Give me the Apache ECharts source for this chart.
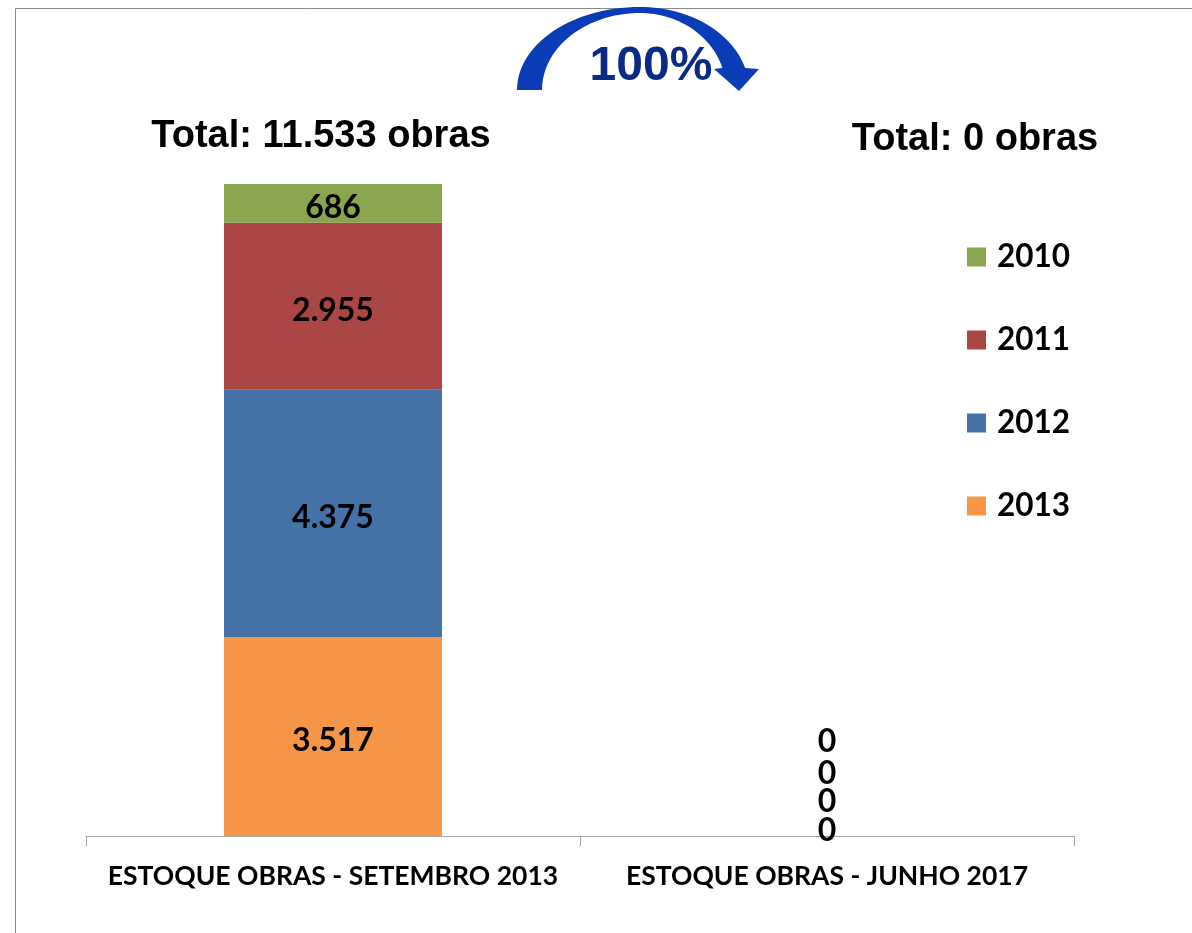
<!DOCTYPE html>
<html><head><meta charset="utf-8">
<script src="https://cdn.jsdelivr.net/npm/echarts@6/dist/echarts.min.js"></script>
<style>html,body{margin:0;padding:0;background:#fff;}#c{width:1192px;height:933px;}</style>
</head><body><div id="c"></div>
<script>
const categories = ['ESTOQUE OBRAS - SETEMBRO 2013', 'ESTOQUE OBRAS - JUNHO 2017'];
const legendOrder = ['2010', '2011', '2012', '2013'];
const v2013 = [3517, 0];
const v2012 = [4375, 0];
const v2011 = [2955, 0];
const v2010 = [686, 0];
const totals = ['Total: 11.533 obras', 'Total: 0 obras'];
const changeLabel = '100%';

const fmt = v => v.toLocaleString('de-DE');
const lblFont = 'Lato';
const chart = echarts.init(document.getElementById('c'));

function mk(name, vals, color, zeroOffset) {
  return {
    name, type: 'bar', stack: 's', barWidth: 218,
    data: vals.map(v => v === 0 ? {value: v, label: {offset: [0, zeroOffset]}} : v),
    itemStyle: {color},
    label: {show: true, position: 'inside', offset: [0, 4], formatter: p => fmt(p.value), color: '#000', fontFamily: lblFont, fontWeight: 'bold', fontSize: 32},
    emphasis: {disabled: true}
  };
}

// arrow polygon
function arrowPts() {
  const pts = [];
  const cx = 640, cy = 90;
  const N = 30;
  const aoEnd = Math.asin(22 / 83), aiEnd = Math.asin(22 / 77);
  for (let i = 0; i <= N; i++) { const a = Math.PI - i / N * Math.PI / 2; pts.push([cx + 123 * Math.cos(a), cy - 83 * Math.sin(a)]); }
  for (let i = 1; i <= N; i++) { const a = Math.PI / 2 - i / N * (Math.PI / 2 - aoEnd); pts.push([cx + 109 * Math.cos(a), cy - 83 * Math.sin(a)]); }
  pts.push([759, 69], [739, 91], [714, 69]);
  for (let i = 0; i <= N; i++) { const a = aiEnd + i / N * (Math.PI / 2 - aiEnd); pts.push([cx + 86 * Math.cos(a), cy - 77 * Math.sin(a)]); }
  for (let i = 1; i <= N; i++) { const a = Math.PI / 2 + i / N * Math.PI / 2; pts.push([cx + 98 * Math.cos(a), cy - 77 * Math.sin(a)]); }
  return pts;
}

chart.setOption({
  animation: false,
  backgroundColor: '#fff',
  grid: {left: 86, right: 118, top: 44.5, bottom: 97, containLabel: false},
  xAxis: {type: 'category', data: categories,
    axisLine: {lineStyle: {color: '#a6a6a6', width: 1}},
    axisTick: {show: true, length: 10, interval: 0, alignWithLabel: false, lineStyle: {color: '#a6a6a6'}},
    axisLabel: {color: '#000', fontFamily: lblFont, fontWeight: 'bold', fontSize: 26.5, margin: 27, interval: 0, hideOverlap: false}},
  yAxis: {type: 'value', min: 0, max: 14000, show: false, splitLine: {show: false}},
  legend: {orient: 'vertical', left: 967, top: 241, padding: 0, itemWidth: 19, itemHeight: 19, itemGap: 51,
    data: legendOrder, icon: 'rect',
    textStyle: {color: '#000', fontFamily: lblFont, fontWeight: 'bold', fontSize: 31.5, padding: [0, 0, 0, 6]}},
  series: [
    mk('2013', v2013, '#F79646', -5),
    mk('2012', v2012, '#4572A7', -34),
    mk('2011', v2011, '#AA4643', -62),
    mk('2010', v2010, '#89A54E', -94)
  ],
  graphic: [
    {type: 'line', shape: {x1: 15.5, y1: 8.5, x2: 1192, y2: 8.5}, style: {stroke: '#888', lineWidth: 1}, silent: true},
    {type: 'line', shape: {x1: 15.5, y1: 8.5, x2: 15.5, y2: 933}, style: {stroke: '#888', lineWidth: 1}, silent: true},
    {type: 'polygon', shape: {points: arrowPts()}, style: {fill: '#0a3cb8'}, silent: true},
    {type: 'text', x: 651, y: 67, style: {text: changeLabel, font: 'bold 48px "Liberation Sans", Arial', fill: '#0b2a84', textAlign: 'center', textVerticalAlign: 'middle'}, silent: true},
    {type: 'text', x: 321, y: 137, style: {text: totals[0], font: 'bold 38px "Liberation Sans", Arial', fill: '#000', textAlign: 'center', textVerticalAlign: 'middle'}, silent: true},
    {type: 'text', x: 975, y: 140, style: {text: totals[1], font: 'bold 38px "Liberation Sans", Arial', fill: '#000', textAlign: 'center', textVerticalAlign: 'middle'}, silent: true}
  ]
});
</script></body></html>
